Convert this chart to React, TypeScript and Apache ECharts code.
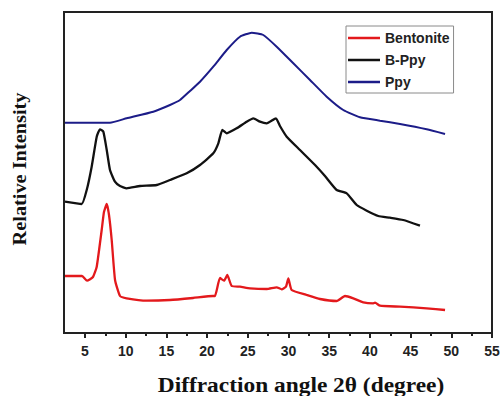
import React, { useEffect, useRef } from "react";
import * as echarts from "echarts";

// XRD patterns: [2θ (degree), relative intensity (a.u.)]
const bentonite: [number, number][] = [
  [2.54, 57], [4.63, 57], [5.25, 52.3], [5.98, 56], [6.44, 66.3], [7.05, 103],
  [7.33, 121], [7.67, 129], [7.95, 118], [8.28, 93], [8.69, 53], [9.3, 37],
  [10.12, 34.7], [12.58, 32.3], [15.44, 33], [18.27, 35], [20.72, 37], [20.97, 37],
  [21.58, 55], [22.08, 52.3], [22.48, 58], [23.02, 47], [24.04, 46.3], [25.27, 44.7],
  [27.32, 44], [28.55, 45.7], [29.16, 43.7], [29.69, 46.3], [29.98, 54.7], [30.39, 43],
  [32.24, 38], [33.87, 34], [35.92, 32], [36.94, 37], [37.96, 34.7], [39.19, 30.7],
  [40.42, 29.7], [40.63, 30.3], [41.24, 27.3], [43.7, 26.3], [46.98, 24.7], [49.23, 23],
];

const bPpy: [number, number][] = [
  [2.54, 131.3], [4.59, 129], [5.21, 143], [5.82, 166.3], [6.44, 196.3], [6.84, 203.7],
  [7.25, 201.3], [7.67, 183], [8.07, 163], [8.68, 151.3], [9.3, 147], [10.12, 144.7],
  [11.76, 147], [13.81, 148], [15.44, 153], [17.49, 159.7], [19.13, 168], [20.76, 179.7],
  [21.38, 189.7], [21.87, 203], [22.41, 199.7], [23.64, 204.7], [24.86, 211.3], [25.68, 214.7],
  [26.5, 211.3], [27.32, 209.7], [28.46, 214.7], [28.95, 207], [29.78, 196.3], [31.41, 183],
  [33.26, 168], [34.48, 157], [35.92, 143], [37.15, 139.7], [38.38, 128], [39.61, 122.3],
  [41.03, 117], [42.47, 115.3], [44.1, 113], [46.15, 107.3],
];

const ppy: [number, number][] = [
  [2.54, 210.3], [8.07, 210.3], [10.12, 214.7], [13.39, 221.3], [15.44, 228], [16.67, 233],
  [17.9, 242], [19.13, 251.3], [20.76, 266.3], [22.41, 283], [24.04, 296.3], [25.48, 300.3],
  [26.9, 298], [28.55, 286.3], [30.59, 269.7], [32.64, 253], [34.69, 236.3], [36.73, 223],
  [38.78, 215.7], [41.24, 212.3], [43.7, 209], [46.98, 203.7], [49.23, 199],
];

const majorTicks = [5, 10, 15, 20, 25, 30, 35, 40, 45, 50, 55];
const minorTicks = [7.5, 12.5, 17.5, 22.5, 27.5, 32.5, 37.5, 42.5, 47.5, 52.5];

const seriesNames = ["Bentonite", "B-Ppy", "Ppy"];
const seriesColors = ["#e3191c", "#111111", "#1c1c88"];

const SANS = "'Liberation Sans', Arial, Helvetica, sans-serif";
const SERIF = "'Liberation Serif', 'Times New Roman', serif";

export default function App() {
  const ref = useRef<HTMLDivElement>(null);

  useEffect(() => {
    document.body.style.margin = "0";
    if (!ref.current) return;
    const chart = echarts.init(ref.current, undefined, { renderer: "svg" });
    const datasets = [bentonite, bPpy, ppy];

    chart.setOption({
      animation: false,
      grid: {
        left: 64,
        top: 12,
        right: 11,
        bottom: 63,
        show: true,
        borderColor: "#222",
        borderWidth: 2,
        backgroundColor: "transparent",
      },
      legend: {
        orient: "vertical",
        left: 346,
        top: 26,
        data: seriesNames,
        icon: "rect",
        itemWidth: 32,
        itemHeight: 2.5,
        itemGap: 8,
        padding: [5, 4, 4, 2],
        borderColor: "#8a8a8a",
        borderWidth: 1,
        backgroundColor: "#fff",
        textStyle: { fontFamily: SANS, fontWeight: "bold", fontSize: 14, color: "#222" },
      },
      xAxis: [
        {
          type: "value",
          min: 2.42,
          max: 55,
          position: "bottom",
          splitLine: { show: false },
          axisLine: { show: true, lineStyle: { color: "#222", width: 2 } },
          axisTick: {
            show: true,
            customValues: majorTicks,
            length: 5,
            lineStyle: { color: "#222", width: 2 },
          },
          axisLabel: {
            customValues: majorTicks,
            margin: 11,
            fontFamily: SANS,
            fontWeight: "bold",
            fontSize: 14,
            color: "#222",
          },
        },
        {
          type: "value",
          min: 2.42,
          max: 55,
          position: "bottom",
          splitLine: { show: false },
          axisLine: { show: false },
          axisTick: {
            show: true,
            customValues: minorTicks,
            length: 3,
            lineStyle: { color: "#222", width: 2 },
          },
          axisLabel: { show: false },
        },
      ],
      yAxis: {
        type: "value",
        min: 0,
        max: 321,
        splitLine: { show: false },
        axisLine: { show: true, lineStyle: { color: "#222", width: 2 } },
        axisTick: { show: false },
        axisLabel: { show: false },
      },
      series: datasets.map((d, i) => ({
        name: seriesNames[i],
        type: "line",
        data: d,
        showSymbol: false,
        symbol: "none",
        smooth: 0.15,
        color: seriesColors[i],
        lineStyle: { color: seriesColors[i], width: i === 2 ? 2 : 2.3 },
      })),
      graphic: [
        {
          type: "text",
          x: 19,
          y: 169,
          rotation: Math.PI / 2,
          scaleX: 1.07,
          style: {
            text: "Relative Intensity",
            fontFamily: SERIF,
            fontWeight: "bold",
            fontSize: 19,
            fill: "#111",
            textAlign: "center",
            textVerticalAlign: "middle",
          },
        },
        {
          type: "text",
          x: 301,
          y: 386,
          scaleX: 1.17,
          style: {
            text: "Diffraction angle 2θ (degree)",
            fontFamily: SERIF,
            fontWeight: "bold",
            fontSize: 20,
            fill: "#111",
            textAlign: "center",
            textVerticalAlign: "middle",
          },
        },
      ],
    });

    return () => chart.dispose();
  }, []);

  return <div ref={ref} style={{ width: 503, height: 396 }} />;
}
